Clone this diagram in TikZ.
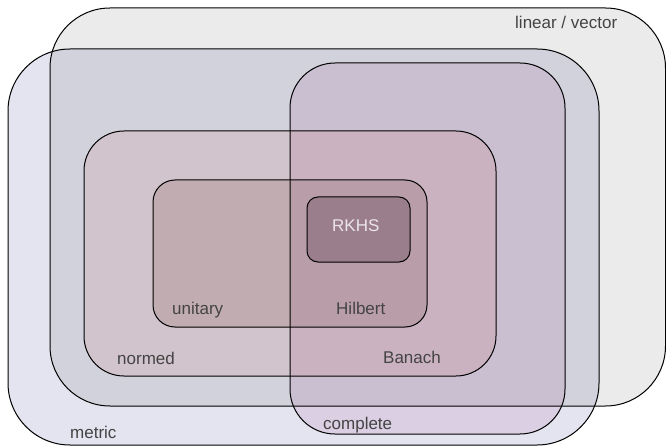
\documentclass[tikz,border=0pt]{standalone}
\usepackage{fontspec}
\setmainfont{Liberation Sans}
\definecolor{cLinear}{RGB}{235,235,235}
\definecolor{cMetric}{RGB}{228,228,240}
\definecolor{cComplete}{RGB}{246,232,242}
\definecolor{cNormed}{RGB}{255,238,236}
\definecolor{cUnitary}{RGB}{234,225,222}
\definecolor{cRKHS}{RGB}{214,206,214}
\definecolor{cText}{RGB}{68,68,68}
\definecolor{cLight}{RGB}{235,228,235}
\tikzset{
  setbox/.style={draw=black, line width=1pt},
  lbl/.style={anchor=base west, inner sep=0pt, text=cText, font=\fontsize{17}{20}\selectfont},
  lbllight/.style={lbl, text=cLight}
}
\begin{document}
\begin{tikzpicture}[x=1pt,y=-1pt]
\useasboundingbox (0,0) rectangle (666,446);
\begin{scope}[blend mode=multiply]
\draw[setbox, fill=cLinear, rounded corners=60pt] (50,8) rectangle (665.5,406);
\draw[setbox, fill=cMetric, rounded corners=62pt] (8,49) rectangle (599,445);
\draw[setbox, fill=cComplete, rounded corners=45pt] (290,63) rectangle (565,434);
\draw[setbox, fill=cNormed, rounded corners=40pt] (84,131) rectangle (496,376);
\draw[setbox, fill=cUnitary, rounded corners=22pt] (153,180) rectangle (427,327);
\draw[setbox, fill=cRKHS, rounded corners=11pt] (307,197) rectangle (410,262);
\end{scope}
\node[lbl] (linear) at (515,29) {linear / vector};
\node[lbl] (metric) at (70,438) {metric};
\node[lbl] (normed) at (117,364.5) {normed};
\node[lbl] (unitary) at (172,314.5) {unitary};
\node[lbl] (hilbert) at (336,314.5) {Hilbert};
\node[lbl] (banach) at (383,363) {Banach};
\node[lbl] (complete) at (323,429) {complete};
\node[lbllight] (rkhs) at (332,231.5) {RKHS};
\end{tikzpicture}
\end{document}
